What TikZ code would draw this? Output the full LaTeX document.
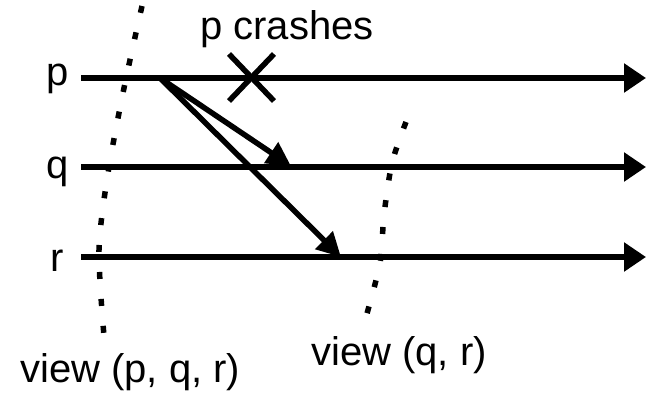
\documentclass[tikz,border=0pt]{standalone}
\usepackage{fontspec}
\setmainfont{Liberation Sans}
\usetikzlibrary{arrows.meta}
\begin{document}
\begin{tikzpicture}[x=1pt,y=-1pt,
  lbl/.style={inner sep=0pt,anchor=base west,font=\fontsize{40}{48}\selectfont},
  procline/.style={line width=6pt,-{Triangle[length=22pt,width=28pt]}},
  msg/.style={line width=5.5pt,-{Triangle[length=24pt,width=24pt]}},
  cut/.style={line width=5.5pt,dash pattern=on 7pt off 20pt},
  crash/.style={line width=5.5pt}]
\useasboundingbox (0,0) rectangle (646,397);
% process lines
\coordinate (p0) at (81,78);  \coordinate (p1) at (646,78);
\coordinate (q0) at (81,167); \coordinate (q1) at (646,167);
\coordinate (r0) at (81,257); \coordinate (r1) at (646,257);
\draw[procline] (p0) -- (p1);
\draw[procline] (q0) -- (q1);
\draw[procline] (r0) -- (r1);
% labels
\node[lbl] (lp) at (46,85) {p};
\node[lbl] (lq) at (46,178) {q};
\node[lbl] (lr) at (50,271) {r};
% messages
\coordinate (send) at (160,78);
\coordinate (rq) at (291,166);
\coordinate (rr) at (341,257);
\draw[msg] (send) -- (rq);
\draw[msg] (send) -- (rr);
% crash
\coordinate (x1) at (229,54); \coordinate (x2) at (274,101);
\coordinate (x3) at (274,54); \coordinate (x4) at (229,101);
\draw[crash] (x1) -- (x2);
\draw[crash] (x3) -- (x4);
\node[lbl] (crashlbl) at (200,39) {p crashes};
% cuts
\draw[cut] plot[smooth] coordinates {(142,6) (124,88) (108,173) (99,250) (104,336)};
\draw[cut] plot[smooth] coordinates {(406,122) (392,163) (384,215) (380,263) (366,317)};
\node[lbl] (v1) at (20,382) {view (p, q, r)};
\node[lbl] (v2) at (311,365) {view (q, r)};
\end{tikzpicture}
\end{document}
